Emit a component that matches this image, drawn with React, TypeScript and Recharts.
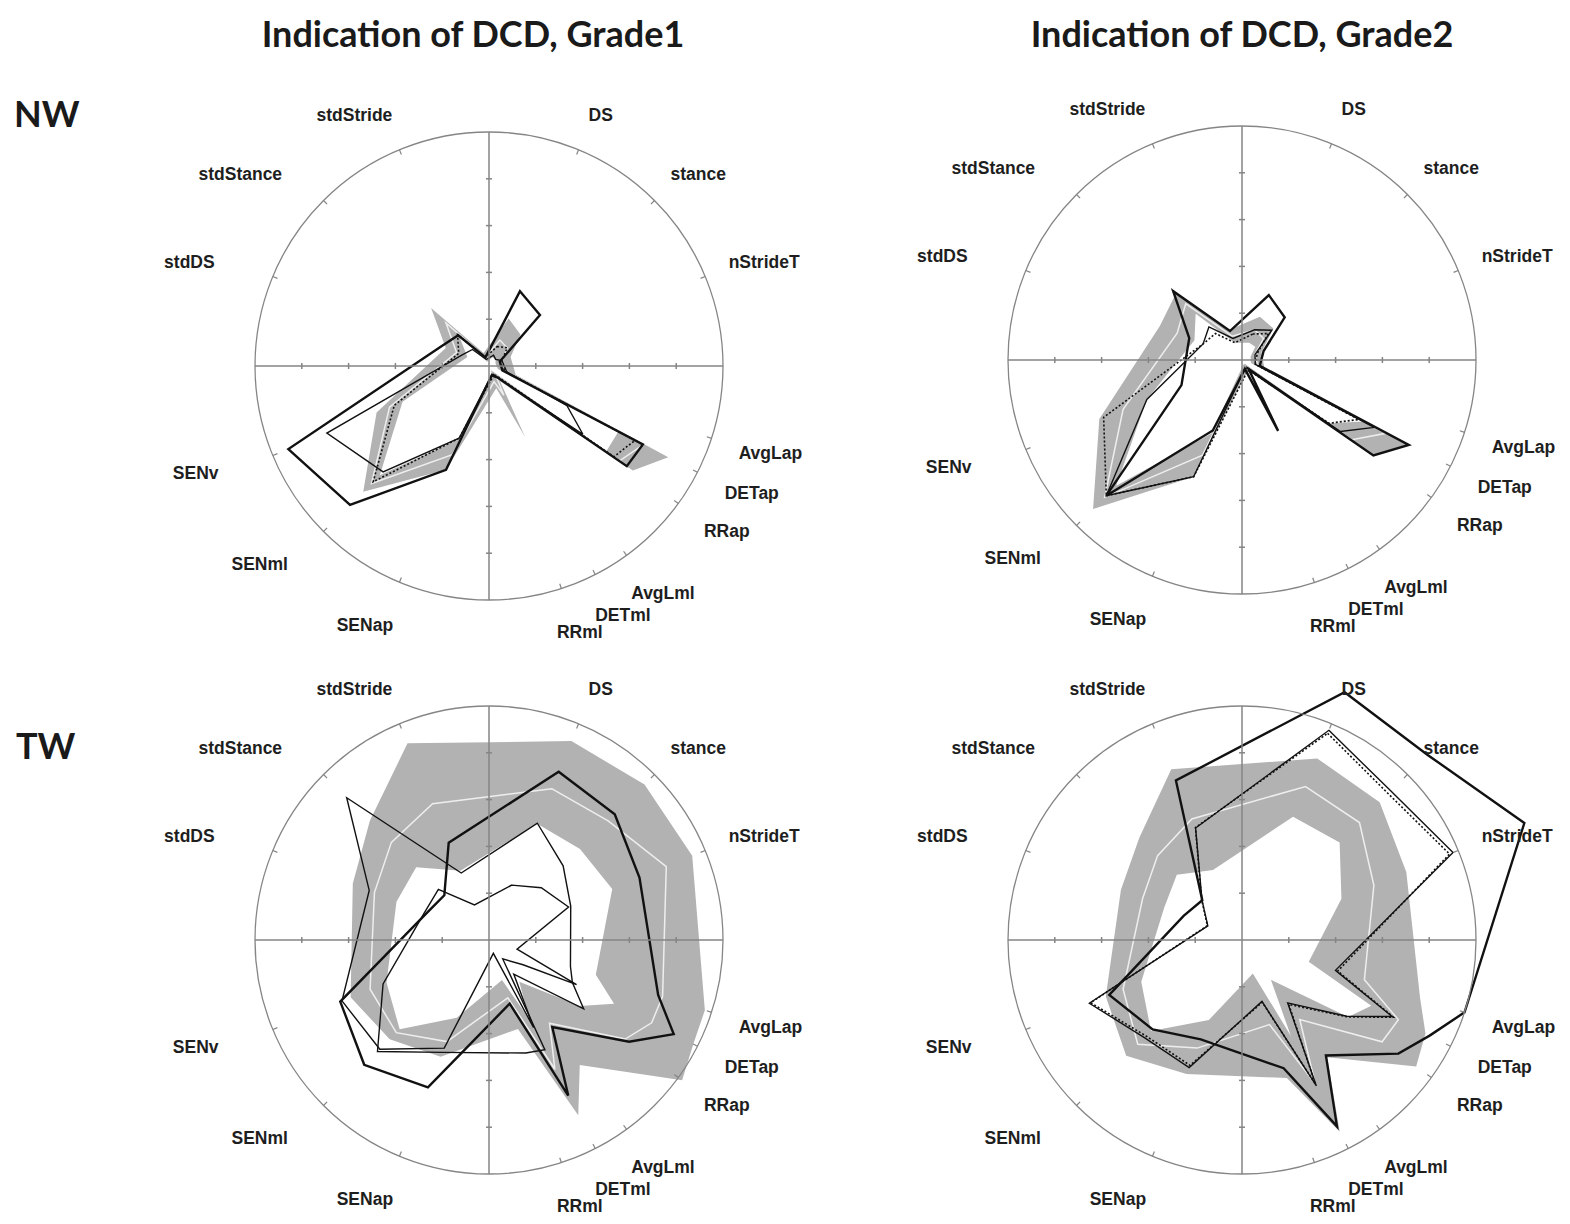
import React from 'react';
import { RadarChart, Radar, PolarAngleAxis, PolarRadiusAxis } from 'recharts';

// variables, clockwise from the top, with their bearing (degrees clockwise from 12 o'clock)
const VARS = ['DS', 'stance', 'nStrideT', 'AvgLap', 'DETap', 'RRap', 'AvgLml', 'DETml', 'RRml', 'SENap', 'SENml', 'SENv', 'stdDS', 'stdStance', 'stdStride'];
const BEARINGS = [22.5, 45, 67.5, 108, 117, 126, 144, 153, 162, 202.5, 225, 247.5, 292.5, 315, 337.5];

// NW, Grade1
const nw1Lo = [0.2, 0.2, 0.15, 0.2, 3.1, 3.1, 0.15, 0.1, 0.2, 1.7, 3.3, 2.0, 0.5, 0.9, 0.1];
const nw1Hi = [1.1, 0.95, 0.5, 0.6, 4.3, 3.8, 0.4, 1.7, 0.5, 2.4, 3.8, 2.6, 1.0, 1.75, 0.3];
const nw1Mean = [0.6, 0.55, 0.3, 0.4, 3.7, 3.45, 0.25, 0.7, 0.35, 2.05, 3.55, 2.3, 0.75, 1.3, 0.2];
const nw1A = [1.73, 1.54, 0.25, 0.3, 3.69, 3.64, 0.3, 0.25, 0.2, 2.4, 4.2, 4.64, 1.1, 0.93, 0.2];
const nw1B = [0.25, 0.2, 0.3, 0.4, 1.87, 2.48, 0.3, 0.2, 0.2, 1.67, 3.2, 3.75, 0.62, 0.5, 0.15];
const nw1C = [0.45, 0.55, 0.3, 0.35, 3.5, 3.3, 0.25, 0.2, 0.25, 1.67, 3.5, 2.19, 0.7, 0.95, 0.2];

// NW, Grade2
const nw2Lo = [0.4, 0.4, 0.2, 0.2, 2.9, 2.3, 0.1, 0.1, 0.1, 1.7, 3.8, 2.2, 1.1, 1.4, 0.4];
const nw2Hi = [1.0, 0.95, 0.45, 0.5, 4.0, 3.45, 0.3, 0.3, 0.3, 2.7, 4.5, 3.3, 1.9, 2.0, 0.7];
const nw2Mean = [0.7, 0.65, 0.3, 0.35, 3.45, 2.9, 0.2, 0.2, 0.2, 2.2, 4.15, 2.75, 1.5, 1.7, 0.55];
const nw2A = [1.5, 1.29, 0.5, 0.4, 4.0, 3.47, 0.25, 1.7, 0.2, 1.63, 4.1, 1.4, 1.22, 2.08, 0.67];
const nw2B = [0.7, 0.9, 0.3, 0.3, 3.17, 2.6, 0.2, 0.2, 0.2, 2.7, 4.1, 2.2, 0.9, 1.0, 0.5];
const nw2C = [0.6, 0.8, 0.35, 0.3, 2.8, 2.3, 0.3, 0.25, 0.3, 2.7, 4.1, 3.2, 0.9, 0.8, 0.4];

// TW, Grade1
const tw1Lo = [2.69, 2.75, 2.85, 2.4, 3.0, 2.4, 1.1, 1.9, 0.9, 1.8, 2.7, 2.37, 2.14, 2.2, 1.6];
const tw1Hi = [4.6, 4.7, 4.7, 4.85, 4.9, 5.1, 3.3, 4.2, 2.0, 2.7, 3.0, 3.2, 3.15, 3.6, 4.55];
const tw1Mean = [3.5, 3.6, 4.1, 3.9, 3.9, 3.6, 2.2, 3.1, 1.3, 2.35, 2.8, 2.75, 2.65, 2.95, 3.15];
const tw1A = [3.89, 3.8, 3.48, 3.8, 4.43, 3.7, 2.3, 3.73, 1.43, 3.41, 3.77, 3.44, 1.46, 1.35, 2.25];
const tw1B = [2.7, 2.24, 1.89, 1.83, 2.0, 2.5, 0.9, 2.1, 0.3, 2.5, 3.3, 3.4, 2.77, 4.3, 1.55];
const tw1C = [1.27, 1.58, 1.84, 0.63, 2.1, 0.9, 0.5, 2.63, 2.54, 2.6, 3.37, 2.45, 1.5, 1.53, 0.81];

// TW, Grade2
const tw2Lo = [2.85, 2.95, 2.3, 1.5, 3.1, 2.8, 1.05, 2.3, 0.75, 1.85, 2.75, 2.33, 1.8, 1.97, 1.62];
const tw2Hi = [4.2, 4.16, 3.8, 4.0, 4.4, 4.6, 3.1, 4.6, 3.1, 3.1, 3.5, 3.15, 2.8, 3.1, 3.95];
const tw2Mean = [3.55, 3.55, 3.05, 2.75, 3.75, 3.7, 2.1, 3.45, 1.9, 2.5, 3.15, 2.75, 2.3, 2.55, 2.8];
const tw2A = [5.73, 5.6, 6.53, 5.0, 4.5, 4.13, 3.05, 4.47, 2.88, 2.3, 2.7, 3.07, 1.35, 1.2, 3.69];
const tw2B = [4.85, 4.5, 4.88, 2.1, 3.6, 2.77, 1.66, 3.5, 1.38, 2.95, 2.95, 3.53, 0.79, 1.21, 2.59];
const tw2C = [4.78, 4.42, 4.8, 2.15, 3.63, 2.8, 1.7, 3.45, 1.4, 2.9, 2.9, 3.5, 0.8, 1.22, 2.6];

const W = 780;
const H = 720;
const CX = 390;
const CY = 360;
const R = 234;
const LABEL_RX = 290;
const GRID = '#858585';

type PanelProps = {
  lo: number[];
  hi: number[];
  mean: number[];
  a: number[];
  b: number[];
  c: number[];
  cDash?: string;
  left: number;
  top: number;
};

const AngleLabel = (props: any) => {
  const bearing = props.payload?.value;
  const i = BEARINGS.findIndex((v) => Math.abs(v - bearing) < 0.01);
  if (i < 0) return null;
  const name = VARS[i];
  const rad = ((90 - bearing) * Math.PI) / 180;
  const c = Math.cos(rad);
  const s = Math.sin(rad);
  const w = name.length * 9.8;
  const ry = s > 0 ? 272 : 280;
  const x = CX + LABEL_RX * c + (c < 0 ? c * w * 0.7 : c * w * 0.1);
  const y = CY - ry * s;
  return (
    <text
      x={x}
      y={y}
      textAnchor="middle"
      dominantBaseline="central"
      fontFamily="'Liberation Sans', Arial, sans-serif"
      fontWeight="bold"
      fontSize={17.5}
      fill="#1e1e1e"
    >
      {name}
    </text>
  );
};

const crossTick = (angle: number) => (props: any) => {
  const v = props.payload?.value;
  if (v === 0 || v === 5) return null;
  const { x, y } = props;
  const vertical = angle === 0 || angle === 180;
  return vertical ? (
    <line x1={x} y1={y - 3} x2={x} y2={y + 3} stroke={GRID} strokeWidth={1.5} />
  ) : (
    <line x1={x - 3} y1={y} x2={x + 3} y2={y} stroke={GRID} strokeWidth={1.5} />
  );
};

const Panel: React.FC<PanelProps> = ({ lo, hi, mean, a, b, c, cDash, left, top }) => {
  const rows = VARS.map((name, i) => ({
    name,
    bearing: BEARINGS[i],
    band: [lo[i], hi[i]],
    mean: mean[i],
    a: a[i],
    b: b[i],
    c: c[i],
  }));

  return (
    <div style={{ position: 'absolute', left, top }}>
      <RadarChart
        width={W}
        height={H}
        cx={CX}
        cy={CY}
        outerRadius={R}
        startAngle={90}
        endAngle={-270}
        data={rows}
        margin={{ top: 0, right: 0, bottom: 0, left: 0 }}
      >
        <Radar dataKey="band" fill="#b2b2b2" fillOpacity={1} stroke="none" dot={false} isAnimationActive={false} />
        <Radar dataKey="mean" fill="none" stroke="#eeeeee" strokeWidth={1.5} dot={false} isAnimationActive={false} />
        <PolarAngleAxis
          dataKey="bearing"
          type="number"
          domain={[0, 360]}
          ticks={BEARINGS as any}
          axisLineType="circle"
          axisLine={{ stroke: GRID, strokeWidth: 1.3 }}
          tickLine={{ stroke: GRID, strokeWidth: 1.2 }}
          tickSize={5}
          orientation="inner"
          tick={AngleLabel}
        />
        {[0, 90, 180, 270].map((ang, k) => (
          <PolarRadiusAxis
            key={ang}
            radiusAxisId={k}
            angle={ang}
            type="number"
            domain={[0, 5]}
            tickCount={6}
            allowDataOverflow
            axisLine={{ stroke: GRID, strokeWidth: 1.5 }}
            tick={crossTick(ang)}
          />
        ))}
        <Radar
          dataKey="c"
          fill="none"
          stroke="#111"
          strokeWidth={cDash ? 1.6 : 1.4}
          strokeDasharray={cDash}
          dot={false}
          isAnimationActive={false}
        />
        <Radar dataKey="b" fill="none" stroke="#111" strokeWidth={1.4} dot={false} isAnimationActive={false} />
        <Radar dataKey="a" fill="none" stroke="#111" strokeWidth={2.4} dot={false} isAnimationActive={false} />
      </RadarChart>
    </div>
  );
};

const PANELS = [
  { key: 'nw1', cx: 489, cy: 366, lo: nw1Lo, hi: nw1Hi, mean: nw1Mean, a: nw1A, b: nw1B, c: nw1C, cDash: '2 2' },
  { key: 'nw2', cx: 1242, cy: 360, lo: nw2Lo, hi: nw2Hi, mean: nw2Mean, a: nw2A, b: nw2B, c: nw2C, cDash: '2 2' },
  { key: 'tw1', cx: 489, cy: 940, lo: tw1Lo, hi: tw1Hi, mean: tw1Mean, a: tw1A, b: tw1B, c: tw1C, cDash: undefined },
  { key: 'tw2', cx: 1242, cy: 940, lo: tw2Lo, hi: tw2Hi, mean: tw2Mean, a: tw2A, b: tw2B, c: tw2C, cDash: '2 2' },
];

export default function App() {
  return (
    <div
      style={{
        position: 'absolute',
        left: 0,
        top: 0,
        width: 1570,
        height: 1224,
        overflow: 'hidden',
        background: '#fff',
      }}
    >
      <svg width={1570} height={1224} style={{ position: 'absolute', left: 0, top: 0 }}>
        <g fontFamily="Lato, 'Open Sans', sans-serif" fill="#1a1a1a">
          <text x={473} y={47} textAnchor="middle" fontSize={36} fontWeight={700}>
            Indication of DCD, Grade1
          </text>
          <text x={1242} y={47} textAnchor="middle" fontSize={36} fontWeight={700}>
            Indication of DCD, Grade2
          </text>
          <text x={14} y={127} fontSize={36} fontWeight={700}>
            NW
          </text>
          <text x={16} y={759} fontSize={36} fontWeight={700}>
            TW
          </text>
        </g>
      </svg>
      {PANELS.map((p) => (
        <Panel
          key={p.key}
          lo={p.lo}
          hi={p.hi}
          mean={p.mean}
          a={p.a}
          b={p.b}
          c={p.c}
          cDash={p.cDash}
          left={p.cx - CX}
          top={p.cy - CY}
        />
      ))}
    </div>
  );
}
